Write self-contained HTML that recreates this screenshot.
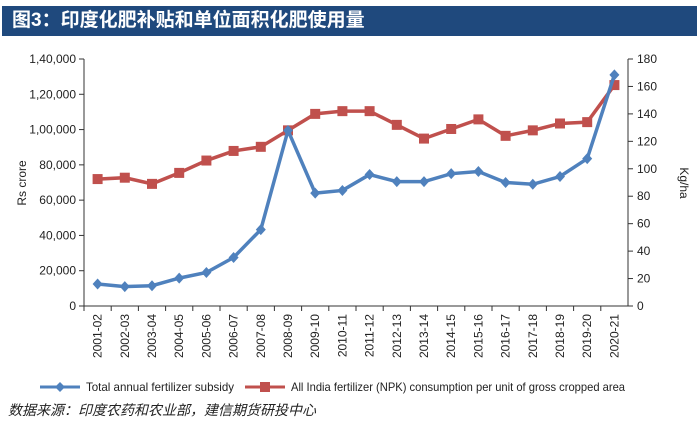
<!DOCTYPE html>
<html><head><meta charset="utf-8"><style>
body{margin:0;width:700px;height:421px;background:#fff;font-family:"Liberation Sans","Noto Sans CJK SC",sans-serif;overflow:hidden;position:relative}
#title{position:absolute;left:2px;top:6px;width:695px;height:30px;background:#1f497d;color:#fff;font-size:19px;font-weight:bold;line-height:30px;padding-left:10px;box-sizing:border-box}
#src{position:absolute;left:8px;top:400px;font-size:14px;font-style:italic;color:#222}
</style></head><body>
<div id="title">图3：印度化肥补贴和单位面积化肥使用量</div>
<svg id="chart" width="700" height="421" style="position:absolute;left:0;top:0"></svg>
<div id="src">数据来源：印度农药和农业部，建信期货研投中心</div>
<script>
const categories=["2001-02","2002-03","2003-04","2004-05","2005-06","2006-07","2007-08","2008-09","2009-10","2010-11","2011-12","2012-13","2013-14","2014-15","2015-16","2016-17","2017-18","2018-19","2019-20","2020-21"];
const subsidy=[12500,11000,11500,15800,19000,27500,43300,99500,64000,65500,74500,70500,70500,75000,76200,70000,69000,73400,83500,131000];
const npk=[92.5,93.5,89,97,106,113,116,128,140,142,142,132,122,129,136,124,128,133,134,161];
const leftTicks=[0,20000,40000,60000,80000,100000,120000,140000];
const leftLabels=["0","20,000","40,000","60,000","80,000","1,00,000","1,20,000","1,40,000"];
const rightTicks=[0,20,40,60,80,100,120,140,160,180];
const svg=document.getElementById('chart');const NS='http://www.w3.org/2000/svg';
const L=84,R=628,T=59,B=306;
const xs=i=>L+(R-L)/categories.length*(i+0.5);
const yl=v=>B-(B-T)*v/140000;const yr=v=>B-(B-T)*v/180;
function el(t,a,txt){const e=document.createElementNS(NS,t);for(const k in a)e.setAttribute(k,a[k]);if(txt!=null)e.textContent=txt;svg.appendChild(e);return e;}
let e;
e=el('line',{x1:L,y1:T,x2:L,y2:B,stroke:'#333'});
e=el('line',{x1:R,y1:T,x2:R,y2:B,stroke:'#333'});
e=el('line',{x1:L,y1:B,x2:R,y2:B,stroke:'#333'});
leftTicks.forEach((v,i)=>{el('line',{x1:L-5,y1:yl(v),x2:L,y2:yl(v),stroke:'#333'});
e=el('text',{x:L-8,y:yl(v)+4,'text-anchor':'end','font-size':12,fill:'#222'},leftLabels[i]);});
rightTicks.forEach(v=>{el('line',{x1:R,y1:yr(v),x2:R+5,y2:yr(v),stroke:'#333'});
e=el('text',{x:R+9,y:yr(v)+4,'font-size':12,fill:'#222'},String(v));});
categories.forEach((c,i)=>{const x=xs(i);el('line',{x1:L+(R-L)/20*i,y1:B,x2:L+(R-L)/20*i,y2:B+5,stroke:'#333'});
e=el('text',{x:x+4,y:B+8,'text-anchor':'end','font-size':12,fill:'#222',transform:`rotate(-90 ${x+4} ${B+8})`},c);});
e=el('text',{x:26,y:183,'text-anchor':'middle','font-size':12,fill:'#222',transform:'rotate(-90 26 183)'},'Rs crore');
e=el('text',{x:680,y:183,'text-anchor':'middle','font-size':12,fill:'#222',transform:'rotate(90 680 183)'},'Kg/ha');
e=el('polyline',{points:npk.map((v,i)=>xs(i)+','+yr(v)).join(' '),fill:'none',stroke:'#c0504d','stroke-width':3.5});
npk.forEach((v,i)=>{e=el('rect',{x:xs(i)-5,y:yr(v)-5,width:10,height:10,fill:'#c0504d'});});
e=el('polyline',{points:subsidy.map((v,i)=>xs(i)+','+yl(v)).join(' '),fill:'none',stroke:'#4f81bd','stroke-width':3.5});
subsidy.forEach((v,i)=>{const x=xs(i),y=yl(v);e=el('polygon',{points:`${x},${y-5.5} ${x+5},${y} ${x},${y+5.5} ${x-5},${y}`,fill:'#4f81bd'});});
// legend
e=el('line',{x1:40,y1:387,x2:80,y2:387,stroke:'#4f81bd','stroke-width':3});
el('polygon',{points:'60,382 65,387 60,392 55,387',fill:'#4f81bd'});
e=el('text',{x:86,y:391,'font-size':12,fill:'#222',textLength:148,lengthAdjust:'spacingAndGlyphs'},'Total annual fertilizer subsidy');
e=el('line',{x1:245,y1:387,x2:285,y2:387,stroke:'#c0504d','stroke-width':3});
el('rect',{x:260,y:382,width:10,height:10,fill:'#c0504d'});
e=el('text',{x:291,y:391,'font-size':12,fill:'#222',textLength:334,lengthAdjust:'spacingAndGlyphs'},'All India fertilizer (NPK) consumption per unit of gross cropped area');
</script>
</body></html>
